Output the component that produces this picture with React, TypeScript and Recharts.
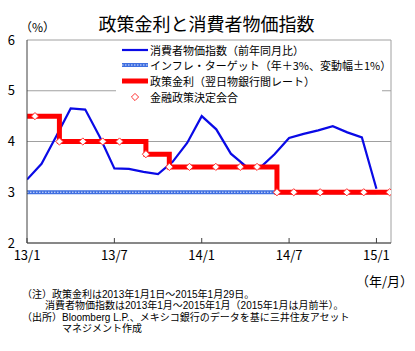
import { LineChart, Line, XAxis, YAxis, CartesianGrid, ReferenceLine } from "recharts";

const FONT = '"Noto Sans CJK JP", "Noto Sans", sans-serif';
const NOTE_FONT = '"Liberation Sans", "Noto Sans CJK JP", sans-serif';

const X_TICKS = [0, 6, 12, 18, 24];
const X_LABELS = ["13/1", "13/7", "14/1", "14/7", "15/1"];
const Y_TICKS = [2, 3, 4, 5, 6];

// 消費者物価指数（前年同月比）2013/1〜2015/1, monthly
const CPI = [
  3.25, 3.56, 4.1, 4.65, 4.63, 4.09, 3.47, 3.46, 3.4, 3.36, 3.6, 3.97, 4.5,
  4.24, 3.76, 3.52, 3.48, 3.75, 4.07, 4.15, 4.22, 4.3, 4.18, 4.08, 3.07,
];

const TARGET = 3;

// 政策金利 change dates and levels
const RATE_DATES = ["2013-01-01", "2013-03-08", "2013-09-06", "2013-10-25", "2014-06-06", "2015-01-29"];
const RATE_VALUES = [4.5, 4.0, 3.75, 3.5, 3.0, 3.0];

// 金融政策決定会合
const MEETING_DATES = [
  "2013-01-18", "2013-03-08", "2013-04-26", "2013-06-07", "2013-07-12", "2013-09-06",
  "2013-10-25", "2013-12-06", "2014-01-31", "2014-03-21", "2014-04-25", "2014-06-06",
  "2014-07-11", "2014-09-05", "2014-10-31", "2014-12-05", "2015-01-29",
];

const toMonth = (s: string) => {
  const [y, m, d] = s.split("-").map(Number);
  const days = new Date(y, m, 0).getDate();
  return (y - 2013) * 12 + (m - 1) + (d - 1) / days;
};

const rateAt = (s: string) => {
  let v = RATE_VALUES[0];
  RATE_DATES.forEach((d, i) => {
    if (d <= s) v = RATE_VALUES[i];
  });
  return v;
};

const cpiData = CPI.map((v, i) => ({ x: i, y: v }));
const targetData = [{ x: 0, y: TARGET }, { x: CPI.length - 1, y: TARGET }];
const rateData = RATE_DATES.map((d, i) => ({ x: toMonth(d), y: RATE_VALUES[i] }));
const meetingData = MEETING_DATES.map((d) => ({ x: toMonth(d), y: rateAt(d) }));

const Diamond = (props: any) => {
  const { cx, cy } = props;
  if (cx == null || cy == null) return null;
  const r = 3.6;
  return (
    <polygon
      key={`${cx}-${cy}`}
      points={`${cx},${cy - r} ${cx + r},${cy} ${cx},${cy + r} ${cx - r},${cy}`}
      fill="#fff"
      stroke="#ff3030"
      strokeWidth={1}
    />
  );
};

const NOTES = [
  { x: 22, t: "（注）政策金利は2013年1月1日～2015年1月29日。" },
  { x: 45, t: "消費者物価指数は2013年1月～2015年1月（2015年1月は月前半）。" },
  { x: 22, t: "（出所）Bloomberg L.P.、メキシコ銀行のデータを基に三井住友アセット" },
  { x: 62, t: "マネジメント作成" },
];

export default function App() {
  return (
    <div
      style={{
        position: "absolute",
        left: 0,
        top: 0,
        width: 415,
        height: 351,
        background: "#fff",
        fontFamily: FONT,
        color: "#000",
      }}
    >
      <LineChart width={415} height={351} margin={{ top: 40, right: 24, bottom: 78, left: 0 }}>
        <CartesianGrid horizontal vertical={false} stroke="#a0a0a0" />
        <XAxis
          type="number"
          dataKey="x"
          domain={[0, 25]}
          ticks={X_TICKS}
          tickFormatter={(v: number) => X_LABELS[X_TICKS.indexOf(v)]}
          height={30}
          tickSize={-5}
          tickMargin={13}
          tick={{ fontSize: 13, fill: "#000", fontFamily: FONT }}
          axisLine={{ stroke: "#404040" }}
          tickLine={{ stroke: "#404040" }}
          allowDataOverflow
        />
        <YAxis
          type="number"
          domain={[2, 6]}
          ticks={Y_TICKS}
          width={27}
          tickSize={0}
          tickMargin={12}
          tick={{ fontSize: 13, fill: "#000", fontFamily: FONT }}
          axisLine={{ stroke: "#404040" }}
          tickLine={false}
        />
        <ReferenceLine x={25} stroke="#a0a0a0" />
        <Line
          data={targetData}
          dataKey="y"
          stroke="#3f6fe0"
          strokeWidth={4}
          dot={false}
          activeDot={false}
          isAnimationActive={false}
        />
        <Line
          data={targetData}
          dataKey="y"
          stroke="#dfe8ff"
          strokeWidth={1.2}
          strokeDasharray="1.5 1.5"
          dot={false}
          activeDot={false}
          isAnimationActive={false}
        />
        <Line
          data={cpiData}
          dataKey="y"
          stroke="#0a0ae6"
          strokeWidth={2.2}
          dot={false}
          activeDot={false}
          isAnimationActive={false}
        />
        <Line
          data={rateData}
          dataKey="y"
          type="stepAfter"
          stroke="#ff0000"
          strokeWidth={5}
          dot={false}
          activeDot={false}
          isAnimationActive={false}
        />
        <Line
          data={meetingData}
          dataKey="y"
          stroke="none"
          dot={<Diamond />}
          activeDot={false}
          isAnimationActive={false}
        />
      </LineChart>

      <div style={{ position: "absolute", left: 0, width: 415, top: 11, textAlign: "center", fontSize: 18, lineHeight: "24px" }}>
        <span style={{ marginLeft: -2 }}>政策金利と消費者物価指数</span>
      </div>
      <div style={{ position: "absolute", left: 20, top: 19, fontSize: 12, lineHeight: "16px" }}>（%）</div>
      <div style={{ position: "absolute", left: 356, top: 272, fontSize: 13, lineHeight: "18px" }}>（年/月）</div>

      <div
        style={{
          position: "absolute",
          left: 116,
          top: 43,
          width: 266,
          height: 61,
          background: "#fff",
          fontSize: 11,
          lineHeight: "15px",
        }}
      >
        {[
          { label: "消費者物価指数（前年同月比）", kind: "cpi" },
          { label: "インフレ・ターゲット（年＋3%、変動幅±1%）", kind: "target" },
          { label: "政策金利（翌日物銀行間レート）", kind: "rate" },
          { label: "金融政策決定会合", kind: "meeting" },
        ].map((row, i) => (
          <div key={i} style={{ display: "flex", alignItems: "center", height: i === 0 ? 14 : 16 }}>
            <svg width={34} height={12} style={{ flex: "none" }}>
              {row.kind === "cpi" && <line x1={6} x2={32} y1={6} y2={6} stroke="#0a0ae6" strokeWidth={2.2} />}
              {row.kind === "target" && (
                <g>
                  <line x1={6} x2={32} y1={6} y2={6} stroke="#3f6fe0" strokeWidth={4} />
                  <line x1={6} x2={32} y1={6} y2={6} stroke="#dfe8ff" strokeWidth={1.2} strokeDasharray="1.5 1.5" />
                </g>
              )}
              {row.kind === "rate" && <line x1={6} x2={32} y1={6} y2={6} stroke="#ff0000" strokeWidth={5} />}
              {row.kind === "meeting" && <Diamond cx={19} cy={6} />}
            </svg>
            <span style={{ whiteSpace: "nowrap" }}>{row.label}</span>
          </div>
        ))}
      </div>

      {NOTES.map((n, i) => (
        <div
          key={i}
          style={{
            position: "absolute",
            left: n.x,
            top: 289 + i * 11.3,
            fontSize: 10,
            lineHeight: "11px",
            height: 11,
            whiteSpace: "nowrap",
            fontFamily: NOTE_FONT,
          }}
        >
          {n.t}
        </div>
      ))}
    </div>
  );
}
